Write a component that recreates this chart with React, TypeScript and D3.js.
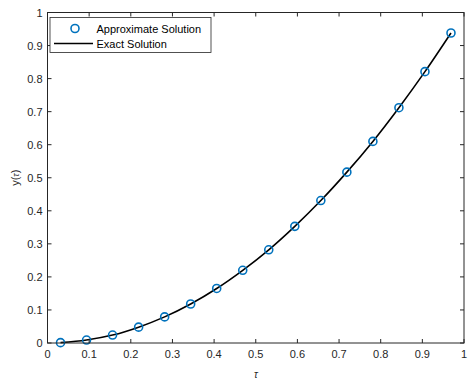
import React from "react";
import * as d3 from "d3";

const tau = [0.03125, 0.09375, 0.15625, 0.21875, 0.28125, 0.34375, 0.40625, 0.46875, 0.53125, 0.59375, 0.65625, 0.71875, 0.78125, 0.84375, 0.90625, 0.96875];
const approx = [0.001, 0.009, 0.024, 0.048, 0.079, 0.118, 0.165, 0.22, 0.282, 0.353, 0.431, 0.517, 0.61, 0.712, 0.821, 0.938];
const exact = [0.001, 0.009, 0.024, 0.048, 0.079, 0.118, 0.165, 0.22, 0.282, 0.353, 0.431, 0.517, 0.61, 0.712, 0.821, 0.938];
const xTicks = [0, 0.1, 0.2, 0.3, 0.4, 0.5, 0.6, 0.7, 0.8, 0.9, 1];
const yTicks = [0, 0.1, 0.2, 0.3, 0.4, 0.5, 0.6, 0.7, 0.8, 0.9, 1];

const W = 468;
const H = 385;
const left = 47.5;
const right = 464;
const top = 12.5;
const bottom = 343;
const axisColor = "#262626";
const font = "'Liberation Sans', Arial, sans-serif";

export default function App() {
  const x = d3.scaleLinear().domain([0, 1]).range([left, right]);
  const y = d3.scaleLinear().domain([0, 1]).range([bottom, top]);
  const line = d3
    .line<number>()
    .x((_, i) => x(tau[i]))
    .y((d) => y(d))
    .curve(d3.curveCatmullRom.alpha(0.5));
  const tl = 4;

  return (
    <svg
      width={W}
      height={H}
      style={{ position: "absolute", left: 0, top: 0, background: "#fff" }}
      fontFamily={font}
    >
      <rect x={0} y={0} width={W} height={H} fill="#fff" />
      {/* exact solution curve */}
      <path d={line(exact) || ""} fill="none" stroke="#000" strokeWidth={1.6} />
      {/* approximate solution markers */}
      {approx.map((v, i) => (
        <circle key={i} cx={x(tau[i])} cy={y(v)} r={4} fill="none" stroke="#0072BD" strokeWidth={1.6} />
      ))}
      {/* axes box */}
      <rect x={left} y={top} width={right - left} height={bottom - top} fill="none" stroke={axisColor} strokeWidth={1} />
      {xTicks.map((t) => (
        <g key={"x" + t}>
          <line x1={x(t)} x2={x(t)} y1={bottom} y2={bottom - tl} stroke={axisColor} />
          <line x1={x(t)} x2={x(t)} y1={top} y2={top + tl} stroke={axisColor} />
          <text x={x(t)} y={bottom + 15} textAnchor="middle" fontSize={11} fill={axisColor}>
            {String(t)}
          </text>
        </g>
      ))}
      {yTicks.map((t) => (
        <g key={"y" + t}>
          <line x1={left} x2={left + tl} y1={y(t)} y2={y(t)} stroke={axisColor} />
          <line x1={right} x2={right - tl} y1={y(t)} y2={y(t)} stroke={axisColor} />
          <text x={left - 5} y={y(t) + 4} textAnchor="end" fontSize={11} fill={axisColor}>
            {String(t)}
          </text>
        </g>
      ))}
      {/* axis labels */}
      <text x={(left + right) / 2} y={378} textAnchor="middle" fontSize={10} fontStyle="italic" fill={axisColor}>
        τ
      </text>
      <text
        transform={`translate(19, ${(top + bottom) / 2}) rotate(-90)`}
        textAnchor="middle"
        fontSize={11}
        fill={axisColor}
      >
        y(<tspan fontStyle="italic" fontSize={9}>τ</tspan>)
      </text>
      {/* legend */}
      <rect x={50} y={17.5} width={161} height={35} fill="#fff" stroke={axisColor} strokeWidth={0.8} />
      <circle cx={75} cy={28.5} r={4} fill="none" stroke="#0072BD" strokeWidth={1.6} />
      <text x={96.5} y={32.5} fontSize={11} fill="#000">Approximate Solution</text>
      <line x1={54} x2={93} y1={43.5} y2={43.5} stroke="#000" strokeWidth={1.6} />
      <text x={96.5} y={47.5} fontSize={11} fill="#000">Exact Solution</text>
    </svg>
  );
}
